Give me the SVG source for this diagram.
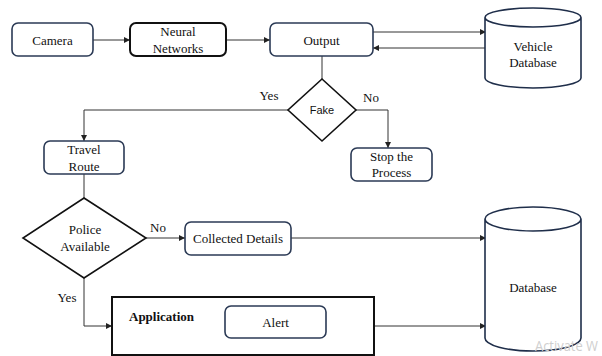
<svg xmlns="http://www.w3.org/2000/svg" width="602" height="356" viewBox="0 0 602 356">
<style>
.box{fill:#fff;stroke:#2b3a55;stroke-width:1.6}
.bbox{fill:#fff;stroke:#111;stroke-width:2}
.dia{fill:#fff;stroke:#111;stroke-width:1.6}
.cyl{fill:#fff;stroke:#1f2e4a;stroke-width:1.6}
.t{font-family:"Liberation Serif","Times New Roman",serif;font-size:13px;fill:#111;text-anchor:middle}
.b{font-weight:bold;text-anchor:start}
.s{font-family:"Liberation Sans",Arial,sans-serif;font-size:11px;fill:#111;text-anchor:middle}
.c{fill:none;stroke:#333;stroke-width:1}
.wm{font-family:"Open Sans","Liberation Sans",sans-serif;font-size:14px;fill:#cfcfcf}
</style>
<defs>
<marker id="ah" viewBox="0 0 6 6" refX="6" refY="3" markerWidth="6" markerHeight="6" orient="auto" markerUnits="userSpaceOnUse">
<path d="M0,0 L6,3 L0,6 z" fill="#222"/>
</marker>
</defs>
<rect width="602" height="356" fill="#fff"/>
<g id="connectors">
<line class="c" x1="93" y1="40" x2="130" y2="40" marker-end="url(#ah)"/>
<line class="c" x1="226" y1="40" x2="270" y2="40" marker-end="url(#ah)"/>
<line class="c" x1="373" y1="32" x2="486" y2="32" marker-end="url(#ah)"/>
<line class="c" x1="486" y1="48" x2="373" y2="48" marker-end="url(#ah)"/>
<line class="c" x1="322" y1="56" x2="322" y2="79"/>
<polyline class="c" points="288,110 84,110 84,141" marker-end="url(#ah)"/>
<polyline class="c" points="356,110 388,110 388,148" marker-end="url(#ah)"/>
<line class="c" x1="84" y1="174" x2="84" y2="198"/>
<line class="c" x1="146" y1="238" x2="185" y2="238" marker-end="url(#ah)"/>
<line class="c" x1="291" y1="238" x2="486" y2="238" marker-end="url(#ah)"/>
<polyline class="c" points="84,278 84,326 112,326" marker-end="url(#ah)"/>
<line class="c" x1="374" y1="326" x2="486" y2="326" marker-end="url(#ah)"/>
<text class="t" x="269" y="100">Yes</text>
<text class="t" x="371" y="102">No</text>
<text class="t" x="158" y="232">No</text>
<text class="t" x="67" y="302">Yes</text>
</g>
<g id="camera">
<rect class="box" x="12" y="23" width="81" height="33" rx="6"/>
<text class="t" x="52.5" y="45">Camera</text>
</g>
<g id="neural-networks">
<rect class="bbox" x="130" y="23" width="96" height="33" rx="6"/>
<text class="t" x="178" y="36">Neural</text>
<text class="t" x="178" y="53">Networks</text>
</g>
<g id="output">
<rect class="box" x="270" y="23" width="103" height="33" rx="6"/>
<text class="t" x="321.5" y="45">Output</text>
</g>
<g id="vehicle-database">
<path class="cyl" d="M485,17.5 L485,78 A48,10 0 0 0 581,78 L581,17.5 A48,9.5 0 0 0 485,17.5 A48,9.5 0 0 0 581,17.5"/>
<text class="t" x="533" y="51">Vehicle</text>
<text class="t" x="533" y="67">Database</text>
</g>
<g id="fake">
<polygon class="dia" points="322,79 356,110 322,141 288,110"/>
<text class="s" x="322" y="114">Fake</text>
</g>
<g id="stop-the-process">
<rect class="box" x="351" y="148" width="81" height="33" rx="6"/>
<text class="t" x="391.5" y="161">Stop the</text>
<text class="t" x="391.5" y="177">Process</text>
</g>
<g id="travel-route">
<rect class="box" x="44" y="141" width="80" height="33" rx="6"/>
<text class="t" x="84" y="154">Travel</text>
<text class="t" x="84" y="171">Route</text>
</g>
<g id="police-available">
<polygon class="dia" points="84,198 146,238 84,278 23,238"/>
<text class="t" x="85" y="234">Police</text>
<text class="t" x="85" y="251">Available</text>
</g>
<g id="collected-details">
<rect class="box" x="185" y="222" width="106" height="33" rx="6"/>
<text class="t" x="238" y="243">Collected Details</text>
</g>
<g id="database">
<path class="cyl" d="M485,219 L485,338 A48,13 0 0 0 581,338 L581,219 A48,12 0 0 0 485,219 A48,12 0 0 0 581,219"/>
<text class="t" x="533" y="292">Database</text>
</g>
<g id="application">
<rect class="bbox" x="112" y="297" width="262" height="58"/>
<text class="t b" x="129" y="321">Application</text>
</g>
<g id="alert">
<rect class="box" x="225" y="306" width="101" height="32" rx="6"/>
<text class="t" x="275.5" y="327">Alert</text>
</g>
<text class="wm" x="535" y="351" textLength="63" lengthAdjust="spacingAndGlyphs">Activate W</text>
</svg>
